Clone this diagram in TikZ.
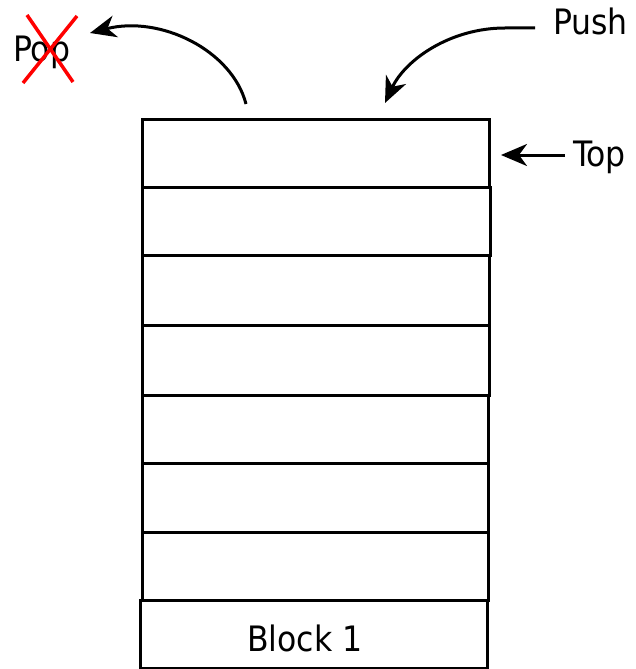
\documentclass[tikz,border=0pt]{standalone}
\usepackage{fontspec}
\setmainfont{DejaVu Sans Condensed}
\usetikzlibrary{arrows.meta}
\begin{document}
\begin{tikzpicture}[x=1pt,y=-1pt,
  cell/.style={draw, line width=3pt, minimum width=347pt, inner sep=0pt, outer sep=0pt},
  lbl/.style={anchor=base west, inner sep=0pt, font=\fontsize{35}{40}\selectfont},
  pointer/.style={line width=3pt, -{Stealth[length=26pt,width=22pt,inset=8pt]}},
  strike/.style={draw=red, line width=3.5pt}]
\useasboundingbox (0,0) rectangle (635,669);

% stack of cells, bottom to top
\node[cell, minimum width=347pt, minimum height=68pt] (s1) at (313.5,634) {};
\node[cell, minimum width=346pt, minimum height=68pt] (s2) at (315,566) {};
\node[cell, minimum width=346pt, minimum height=69pt] (s3) at (315,497.5) {};
\node[cell, minimum width=346pt, minimum height=68pt] (s4) at (315,429) {};
\node[cell, minimum width=347pt, minimum height=70pt] (s5) at (315.5,360) {};
\node[cell, minimum width=347pt, minimum height=70pt] (s6) at (315.5,290) {};
\node[cell, minimum width=348pt, minimum height=68pt] (s7) at (316,221) {};
\node[cell, minimum width=347pt, minimum height=68pt] (s8) at (315.5,153) {};

% labels
\node[lbl] (block) at (247,651) {Block 1};
\node[lbl] (push) at (553,35) {Push};
\node[lbl] (top) at (573,166) {Top};
\node[lbl] (pop) at (13,62) {Pop};

% struck-out pop label
\draw[strike] (27,15) -- (73,82);
\draw[strike] (77,16) -- (23,83);

% arrows
\coordinate (pushend) at (385,103);
\coordinate (popstart) at (246,104);
\coordinate (popend) at (90,33);
\draw[pointer] ([xshift=-18pt,yshift=7pt]push.base west) -- ++(-30,0)
  .. controls (450,28) and (405,60) .. (pushend);
\draw[pointer] (popstart) .. controls (232,50) and (160,15) .. (popend);
\draw[pointer] ([xshift=-8pt,yshift=11pt]top.base west) -- ([xshift=12pt,yshift=-2pt]s8.east);
\end{tikzpicture}
\end{document}
